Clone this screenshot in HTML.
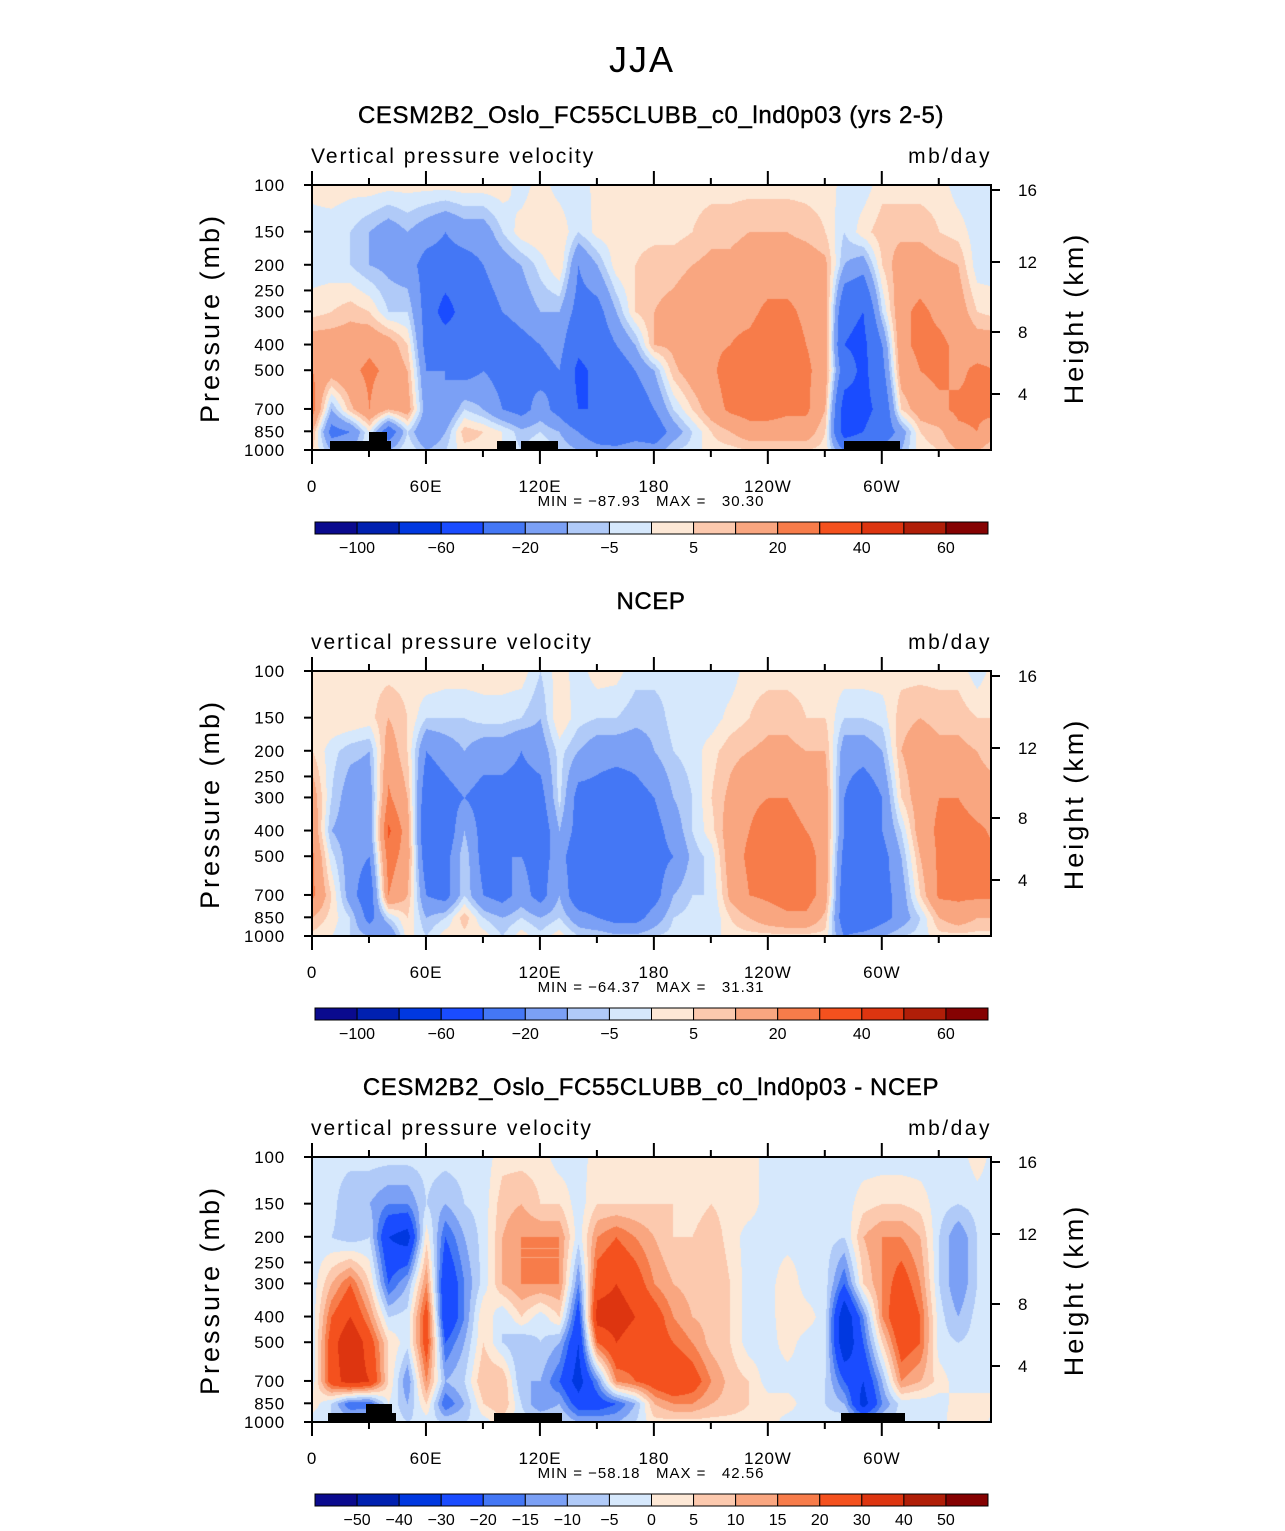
<!DOCTYPE html>
<html><head><meta charset="utf-8">
<style>
html,body{margin:0;padding:0;background:#fff;}
#wrap{position:relative;width:1285px;height:1531px;overflow:hidden;font-family:"Liberation Sans",sans-serif;}
canvas{position:absolute;}
svg{position:absolute;left:0;top:0;}
text{white-space:pre;}
</style></head>
<body>
<div id="wrap">
<canvas id="c0" width="679" height="265" style="left:312px;top:185px"></canvas>
<canvas id="c1" width="679" height="265" style="left:312px;top:671px"></canvas>
<canvas id="c2" width="679" height="264" style="left:312px;top:1157px"></canvas>
<svg id="ov" width="1285" height="1531"></svg>
</div>
<script>
// ---- data ----
const levels=[100,150,200,300,400,500,700,850,1000];
const lonStep=10;
const bounds1=[-100,-80,-60,-40,-20,-10,-5,0,5,10,20,30,40,50,60];
const bounds3=[-50,-40,-30,-20,-15,-10,-5,0,5,10,15,20,30,40,50];
const labels1=["-100","-60","-20","-5","5","20","40","60"];
const labels3=["-50","-40","-30","-20","-15","-10","-5","0","5","10","15","20","30","40","50"];
const palette=['#0a0a8e','#0020b0','#0038e0','#1a4cff','#4477f5','#7ba0f5','#b0caf8','#d6e8fc','#fde8d6','#fcc9ae','#f9a680','#f77c4a','#f4511e','#dd3510','#b01e08','#850202'];
// columns every 10 deg lon; values top(100mb) -> bottom(1000mb)
const model=[
[2,-3,-3,3,15,20,25,10,5],[3,-3,-3,5,15,15,-10,-25,-10],[2,-5,-5,8,15,18,8,-20,-10],[3,-10,-10,5,18,22,20,0,0],
[2,-15,-12,-5,15,18,10,-30,-10],[2,-10,-15,-5,5,10,15,-5,0],[2,-15,-25,-25,-25,-20,-15,-20,-10],[2,-20,-25,-50,-25,-20,-20,-10,-5],
[3,-15,-25,-30,-25,-25,-5,8,3],[3,-15,-20,-25,-30,-20,-10,5,3],[3,-5,-15,-20,-30,-25,-20,0,0],[-3,3,-10,-15,-25,-20,-25,-8,-5],
[3,5,-3,-10,-20,-25,-15,-5,0],[-3,5,5,-10,-15,-20,-25,-10,-5],[-5,-5,-20,-25,-35,-45,-40,-20,-10],[3,2,-10,-25,-30,-35,-40,-30,-15],
[3,3,3,-10,-20,-30,-35,-35,-15],[3,3,5,5,-10,-20,-30,-30,-10],[3,3,8,10,10,-10,-20,-30,-15],[3,3,8,12,12,8,-5,-15,-5],
[3,5,10,15,18,15,5,-5,-3],[3,8,12,15,18,18,15,5,3],[3,8,12,18,20,25,22,10,3],[3,10,15,18,22,25,25,15,5],
[3,10,15,22,25,25,25,15,5],[3,10,15,22,25,25,22,15,5],[3,8,15,18,20,22,22,15,5],[3,5,12,15,15,15,10,5,3],
[-2,-5,-10,-35,-40,-30,-50,-50,-20],[-3,3,-15,-40,-45,-45,-45,-40,-20],[3,8,5,-5,-20,-25,-35,-30,-15],[3,8,15,18,18,15,5,-15,-10],
[3,8,15,22,22,20,15,5,3],[3,5,12,18,22,22,18,8,5],[-3,3,10,15,18,18,22,18,10],[-5,-3,-3,5,15,22,22,20,10]];
const ncep=[
[3,5,5,15,18,22,22,10,3],[3,5,-3,-5,-10,-3,5,3,0],[3,5,-8,-15,-15,-15,-15,-5,-5],[3,3,-10,-15,-15,-20,-30,-25,-10],
[3,10,15,22,32,25,20,-5,-20],[3,5,5,10,15,15,10,5,3],[5,-5,-20,-30,-35,-30,-20,-10,-5],[3,-5,-15,-25,-30,-25,-25,-5,3],
[3,-5,-10,-20,-10,-5,-5,8,3],[3,-3,-15,-25,-25,-25,-20,-5,3],[3,-3,-15,-25,-25,-20,-25,-10,-5],[3,-5,-20,-25,-20,-20,-15,-5,3],
[-5,-10,-15,-25,-30,-25,-25,-10,-3],[3,5,-3,-3,-10,-15,-10,-5,3],[-3,-3,-10,-25,-25,-30,-30,-15,-5],[3,-5,-15,-25,-30,-30,-30,-20,-5],
[2,-5,-15,-30,-40,-40,-30,-25,-8],[-3,-8,-15,-25,-30,-30,-30,-25,-8],[-3,-8,-10,-20,-25,-25,-25,-15,-5],[-3,-3,-5,-10,-15,-20,-10,-5,-3],
[-3,-3,-3,-5,-5,-8,-5,-3,-3],[-3,-3,3,5,3,-3,-5,-5,-3],[-3,2,8,12,15,15,12,5,3],[3,5,10,18,20,22,20,10,3],
[3,8,12,20,25,25,22,15,3],[3,8,12,20,25,25,25,18,3],[3,5,10,15,20,25,25,18,3],[3,5,10,15,15,15,15,8,3],
[3,-5,-15,-20,-20,-25,-30,-30,-20],[3,-5,-15,-30,-25,-30,-30,-35,-15],[3,-3,-10,-20,-20,-25,-25,-25,-10],[3,8,10,5,-5,-10,-15,-15,-5],
[3,10,15,15,15,10,5,-5,-3],[3,8,12,20,22,22,22,10,3],[3,8,12,20,25,25,22,15,3],[-3,5,10,15,22,22,22,10,3]];
const diff=[
[-3,-3,-3,-3,-3,-3,-3,3,-3],[-3,-3,-5,10,20,25,25,-5,-5],[-3,-10,-8,20,30,40,35,-20,-5],[-3,-10,-5,5,15,25,30,-20,0],
[-3,-15,-30,-20,-5,5,5,0,0],[-3,-15,-35,-10,-3,-3,-15,-10,-5],[-3,-5,3,15,25,25,15,5,-3],[-3,-10,-20,-30,-30,-20,-10,-20,-5],
[-3,-5,-10,-15,-15,-10,-5,-10,-5],[-3,-3,-3,-3,5,5,10,5,-3],[3,8,10,10,-5,-5,10,10,3],[3,10,15,15,5,-10,-10,-5,-3],
[3,5,15,15,-3,-5,-10,-15,-3],[-3,5,15,15,5,-10,-20,-10,-3],[-3,-3,-3,-15,-25,-30,-35,-25,-10],[3,5,15,25,35,20,-15,-25,-10],
[3,5,20,30,35,30,15,-20,-10],[3,5,15,25,30,25,20,-10,-5],[3,5,10,15,25,25,25,10,3],[3,5,5,10,15,20,30,15,3],
[3,3,5,8,10,15,25,15,3],[3,5,8,10,8,8,15,10,3],[3,3,3,5,5,5,8,8,3],[3,3,-3,-3,-3,-3,5,5,3],
[-3,-3,-3,-3,-3,-3,-3,3,3],[-3,-3,-3,5,5,3,-3,3,-3],[-3,-3,-3,-3,3,-3,-3,-3,-3],[-3,-3,-3,-3,-3,-3,-5,-5,-3],
[-3,-3,-5,-20,-40,-40,-20,-10,0],[-3,3,10,5,-15,-20,-30,-35,-10],[-3,5,15,15,15,5,-10,-15,-5],[-3,5,15,25,30,25,15,-3,-3],
[-3,3,10,15,20,20,10,-3,-3],[-3,-3,-5,-5,-3,-3,3,-3,-3],[-3,-5,-15,-15,-10,-5,-3,3,5],[3,-3,-5,-5,-3,-3,-3,3,3]];
const titles=["CESM2B2_Oslo_FC55CLUBB_c0_lnd0p03 (yrs 2-5)","NCEP","CESM2B2_Oslo_FC55CLUBB_c0_lnd0p03 - NCEP"];
const varNames=["Vertical pressure velocity","vertical pressure velocity","vertical pressure velocity"];
const minMax=["MIN = \u221287.93   MAX =   30.30","MIN = \u221264.37   MAX =   31.31","MIN = \u221258.18   MAX =   42.56"];
const pTicks=[100,150,200,250,300,400,500,700,850,1000];
const hTicks=[16,12,8,4];
const hTickOffsets=[5,77,147,209];
const lonLabels=["0","60E","120E","180","120W","60W"];

// ---- geometry ----
const X0=312,W=679,H=265,DEG=W/357.5;
const panelTops=[185,671,1157];
const topo=[
 [[330,441,391,450],[369,432,387,441],[497,441,516,450],[521,441,558,450],[844,441,900,450]],
 [],
 [[328,1413,396,1421],[366,1404,392,1413],[494,1413,562,1421],[841,1413,905,1421]]];
const ov=document.getElementById('ov');
const NS='http://www.w3.org/2000/svg';
function mk(tag,attrs,parent){const e=document.createElementNS(NS,tag);for(const k in attrs)e.setAttribute(k,attrs[k]);(parent||ov).appendChild(e);return e;}
function txt(s,x,y,size,anchor,parent){const t=mk('text',{x:x,y:y,'font-size':size,'text-anchor':anchor||'middle','font-family':'Liberation Sans, sans-serif',fill:'#000'},parent);t.textContent=s;return t;}
function yOfP(p){return Math.log(p/100)/Math.log(10)*H;}
function xOfLon(l){return l*DEG;}
function sample(data,lon,p){
  let fx=lon/lonStep;let i=Math.floor(fx);let tx=fx-i;i=Math.min(i,data.length-1);let i2=(i+1)%data.length;
  const lp=Math.log(p);let j=0;while(j<levels.length-2&&Math.log(levels[j+1])<lp)j++;
  let ty=(lp-Math.log(levels[j]))/(Math.log(levels[j+1])-Math.log(levels[j]));ty=Math.max(0,Math.min(1,ty));
  const a=data[i][j]*(1-ty)+data[i][j+1]*ty,b=data[i2][j]*(1-ty)+data[i2][j+1]*ty;
  return a*(1-tx)+b*tx;}
function hexRgb(h){return [parseInt(h.substr(1,2),16),parseInt(h.substr(3,2),16),parseInt(h.substr(5,2),16)];}
const pal=palette.map(hexRgb);
function drawField(cid,data,bounds){
  const c=document.getElementById(cid),ctx=c.getContext('2d');const w=c.width,h=c.height;
  const img=ctx.createImageData(w,h);
  for(let y=0;y<h;y++){const p=100*Math.pow(10,y/H);
    for(let x=0;x<w;x++){const v=sample(data,x/DEG,p);let k=0;while(k<bounds.length&&v>=bounds[k])k++;
      const col=pal[k];const o=(y*w+x)*4;img.data[o]=col[0];img.data[o+1]=col[1];img.data[o+2]=col[2];img.data[o+3]=255;}}
  ctx.putImageData(img,0,0);}
const fields=[model,ncep,diff];
const bset=[bounds1,bounds1,bounds3];
fields.forEach((d,k)=>drawField('c'+k,d,bset[k]));

const ft=txt("JJA",642,72,36,'middle');ft.setAttribute('letter-spacing','2');



panelTops.forEach((top,k)=>{
  const g=mk('g',{});
  
  
  const t=txt(titles[k],651,top-62,24,'middle',g);t.setAttribute('letter-spacing','0.6');t.setAttribute('stroke','#000');t.setAttribute('stroke-width','0.4');
  
  const vn=txt(varNames[k],311,top-22,21,'start',g);vn.setAttribute('letter-spacing','2');
  const un=txt("mb/day",992,top-22,21,'end',g);un.setAttribute('letter-spacing','2.5');
  topo[k].forEach(r=>{const b=mk('rect',{x:r[0],y:r[1],width:r[2]-r[0],height:r[3]-r[1],fill:'#000'},g);});
  const fr=mk('rect',{x:X0,y:top,width:W,height:H,fill:'none',stroke:'#000','stroke-width':2},g);
  
  pTicks.forEach(p=>{const y=top+yOfP(p);mk('line',{x1:X0-8,y1:y,x2:X0,y2:y,stroke:'#000','stroke-width':2},g);
    const l=txt(String(p),X0-27,y+6,17,'end',g);l.setAttribute('letter-spacing','0.8');});
  hTicks.forEach((hh,i)=>{const y=top+hTickOffsets[i];mk('line',{x1:X0+W,y1:y,x2:X0+W+9,y2:y,stroke:'#000','stroke-width':2},g);
    const l=txt(String(hh),X0+W+27,y+6,17,'start',g);});
  for(let lon=0;lon<=357;lon+=30){const x=X0+xOfLon(lon);const major=lon%60===0;const len=major?14:7;
    mk('line',{x1:x,y1:top+H,x2:x,y2:top+H+len,stroke:'#000','stroke-width':2},g);
    mk('line',{x1:x,y1:top,x2:x,y2:top-len,stroke:'#000','stroke-width':2},g);
    if(major){const l=txt(lonLabels[lon/60],x,top+H+42,17,'middle',g);l.setAttribute('letter-spacing','0.8');}}
  const mm=txt(minMax[k],651,top+H+56,15,'middle',g);mm.setAttribute('letter-spacing','1');
  const ya=txt("Pressure (mb)",0,0,27,'middle',g);ya.setAttribute('transform','translate(219,'+(top+133)+') rotate(-90)');ya.setAttribute('letter-spacing','3');
  
  const ra=txt("Height (km)",0,0,27,'middle',g);ra.setAttribute('transform','translate(1083,'+(top+133)+') rotate(-90)');ra.setAttribute('letter-spacing','3');
  
  // colorbar
  const cb=mk('g',{},g);
  const cy=top+H+72,cx=315,cw=673/16;
  palette.forEach((col,i)=>{const r=mk('rect',{x:cx+i*cw,y:cy,width:cw,height:12,fill:col,stroke:'#000','stroke-width':1},cb);});
  const labs=k===2?labels3:labels1;const step=k===2?1:2;
  labs.forEach((s,i)=>{const x=cx+(1+i*step)*cw;const l=txt(s.replace('-','\u2212'),x,cy+31,16,'middle',cb);});
});
</script>
</body></html>
